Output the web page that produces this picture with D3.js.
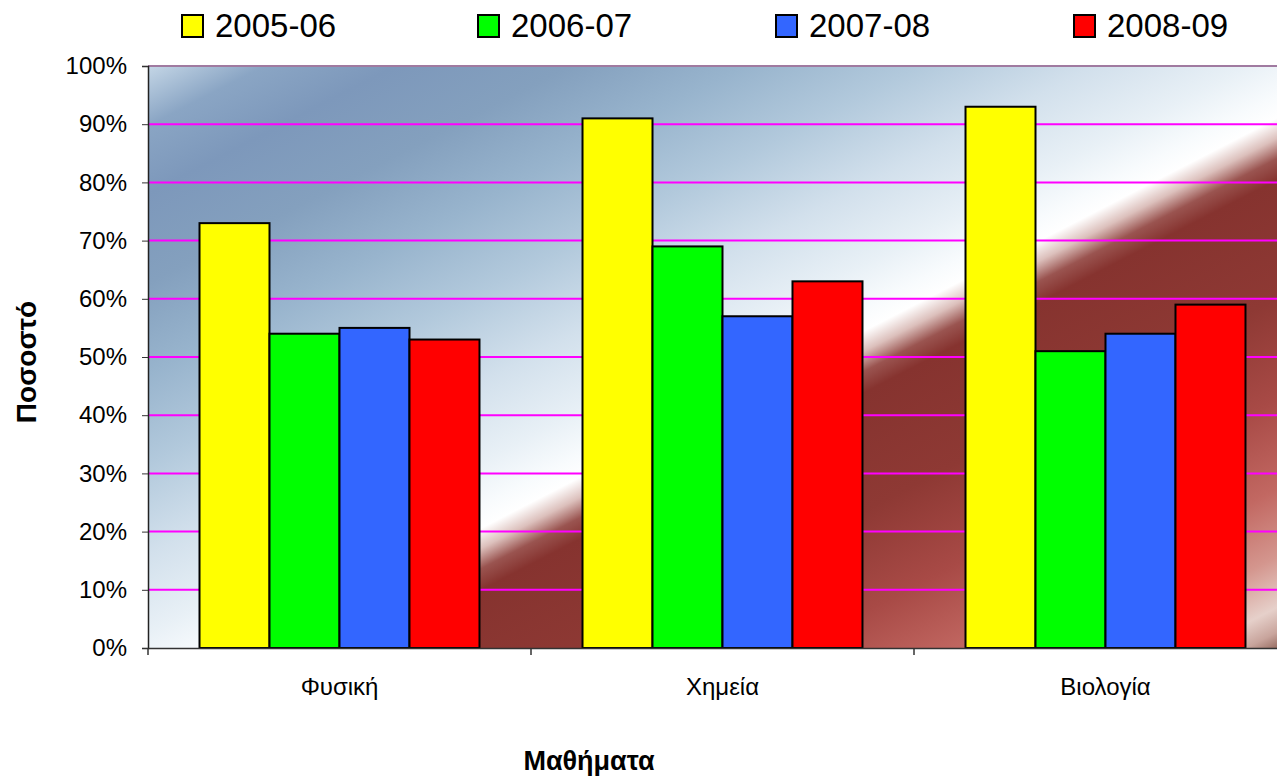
<!DOCTYPE html>
<html><head><meta charset="utf-8">
<script src="https://cdn.jsdelivr.net/npm/d3@7"></script>
<style>html,body{margin:0;padding:0;background:#fff;overflow:hidden}svg{display:block;font-family:Arial,"Liberation Sans",sans-serif}</style>
</head><body>
<svg id="c" width="1277" height="779"></svg>
<script>
const categories = ["Φυσική", "Χημεία", "Βιολογία"];
const seriesNames = ["2005-06", "2006-07", "2007-08", "2008-09"];
const v2005 = [0.73, 0.91, 0.93];
const v2006 = [0.54, 0.69, 0.51];
const v2007 = [0.55, 0.57, 0.54];
const v2008 = [0.53, 0.63, 0.59];
const yTicks = [0, 0.1, 0.2, 0.3, 0.4, 0.5, 0.6, 0.7, 0.8, 0.9, 1.0];
const colors = ["#ffff00", "#00ff00", "#3366ff", "#ff0000"];
const xTitle = "Μαθήματα", yTitle = "Ποσοστό";

const seriesVals = [v2005, v2006, v2007, v2008];
const svg = d3.select("#c");
const L = 148, T = 66, R = 1297, B = 648;

const x0 = d3.scaleBand().domain(categories).range([L, R]).paddingInner(0.269).paddingOuter(0.1345);
const x1 = d3.scaleBand().domain(seriesNames).range([0, x0.bandwidth()]);
const y = d3.scaleLinear().domain([0, 1]).range([B, T]);

// background gradient (diagonal texture imitation)
const defs = svg.append("defs");
const px = 480, py = 540, nx = 0.458, ny = 0.889, dMin = -573, dMax = 470;
const g = defs.append("linearGradient").attr("id", "bg").attr("gradientUnits", "userSpaceOnUse")
  .attr("x1", px + nx * dMin).attr("y1", py + ny * dMin)
  .attr("x2", px + nx * dMax).attr("y2", py + ny * dMax);
const stops = [
  [-573, "#c4d6e6"], [-520, "#8aa5c4"], [-460, "#7d98bb"], [-380, "#84a0be"], [-300, "#98b4cd"],
  [-220, "#b2c9dc"], [-140, "#d2e0ec"], [-70, "#e8f0f6"], [-30, "#f8fbfd"], [-10, "#ffffff"],
  [8, "#dcc0bc"], [26, "#9a5450"], [45, "#86332f"], [150, "#8e3934"], [240, "#a84a46"],
  [320, "#c26862"], [380, "#d4968e"], [425, "#e6d0ca"], [447, "#c8a49c"], [470, "#7a4c40"]
];
stops.forEach(s => g.append("stop").attr("offset", (s[0] - dMin) / (dMax - dMin)).attr("stop-color", s[1]));

svg.append("rect").attr("x", L).attr("y", T).attr("width", R - L).attr("height", B - T).attr("fill", "url(#bg)");

// gridlines
svg.append("g").selectAll("line").data(yTicks.slice(1)).join("line")
  .attr("x1", L).attr("x2", R).attr("y1", d => y(d)).attr("y2", d => y(d))
  .attr("stroke", "#ff00ff").attr("stroke-width", 2);
svg.append("line").attr("x1", L).attr("x2", R).attr("y1", T).attr("y2", T).attr("stroke", "#a07aa0").attr("stroke-width", 2);

// bars
const gg = svg.append("g").selectAll("g").data(categories).join("g")
  .attr("transform", d => `translate(${x0(d)},0)`);
gg.selectAll("rect").data((c, i) => seriesNames.map((s, j) => ({ s, j, v: seriesVals[j][i] }))).join("rect")
  .attr("x", d => x1(d.s)).attr("width", x1.bandwidth())
  .attr("y", d => y(d.v)).attr("height", d => B - y(d.v))
  .attr("fill", d => colors[d.j]).attr("stroke", "#000").attr("stroke-width", 2);

// axes
const ya = svg.append("g").attr("transform", `translate(${L},0)`)
  .call(d3.axisLeft(y).tickValues(yTicks).tickFormat(d3.format(".0%")).tickSize(6).tickPadding(15));
ya.select(".domain").attr("stroke", "#222").attr("stroke-width", 1.5);
ya.selectAll(".tick line").attr("stroke", "#333");
ya.selectAll("text").attr("font-size", 24).attr("fill", "#000").attr("font-family", "Arial, 'Liberation Sans', sans-serif");

const xa = svg.append("g").attr("transform", `translate(0,${B})`)
  .call(d3.axisBottom(x0).tickSize(0).tickPadding(30));
xa.select(".domain").attr("stroke", "#333").attr("stroke-width", 1.5);
xa.selectAll("text").attr("font-size", 24).attr("fill", "#000").attr("font-family", "Arial, 'Liberation Sans', sans-serif");
// category boundary ticks
const bounds = categories.map(c => x0(c) - x0.step() * x0.paddingOuter()).concat([R]);
svg.append("g").selectAll("line").data(bounds).join("line")
  .attr("x1", d => d).attr("x2", d => d).attr("y1", B).attr("y2", B + 7)
  .attr("stroke", "#333").attr("stroke-width", 1.5);

// titles
svg.append("text").attr("x", 589).attr("y", 770).attr("text-anchor", "middle")
  .attr("font-size", 27).attr("font-weight", "bold").text(xTitle);
svg.append("text").attr("transform", "translate(36,362) rotate(-90)").attr("text-anchor", "middle")
  .attr("font-size", 28).attr("font-weight", "bold").text(yTitle);

// legend
const lx = [182, 478, 776, 1074];
const lg = svg.append("g").selectAll("g").data(seriesNames).join("g")
  .attr("transform", (d, i) => `translate(${lx[i]},15)`);
lg.append("rect").attr("width", 21).attr("height", 22).attr("fill", (d, i) => colors[i])
  .attr("stroke", "#000").attr("stroke-width", 2);
lg.append("text").attr("x", 33).attr("y", 22).attr("font-size", 33).text(d => d);
</script>
</body></html>
